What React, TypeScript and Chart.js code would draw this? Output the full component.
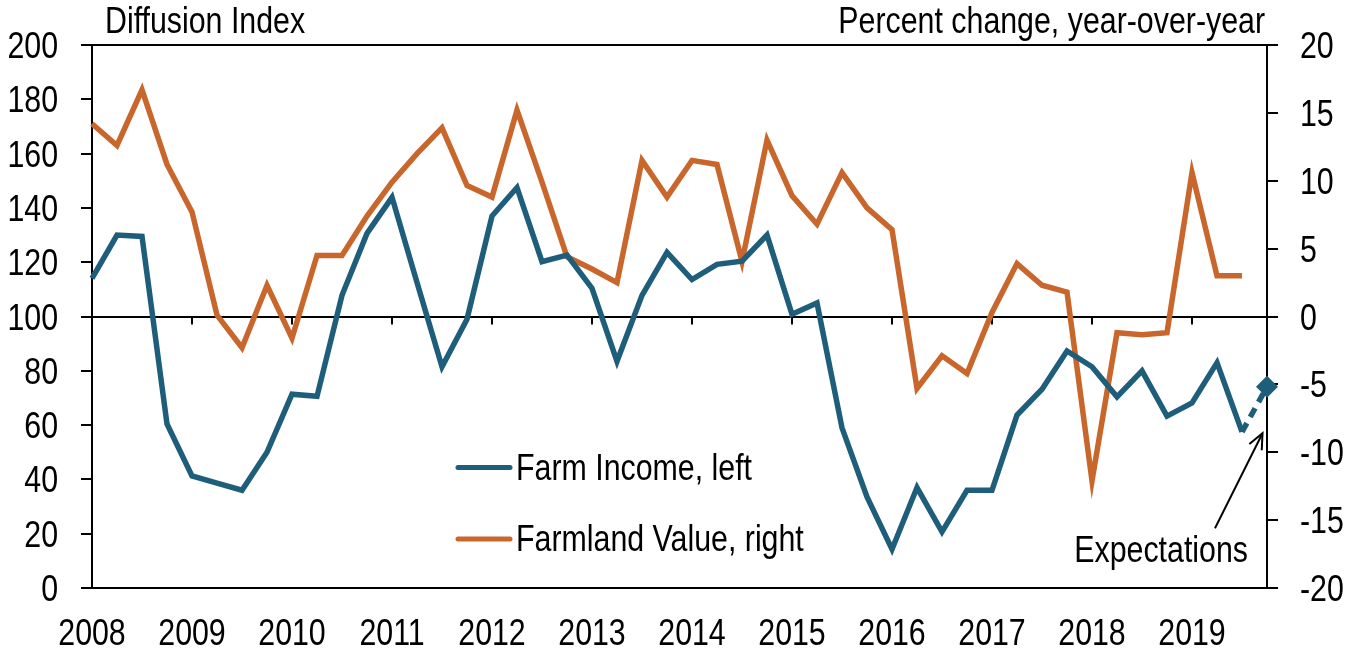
import React, { useEffect, useRef } from "react";
import { Chart, registerables } from "chart.js";

Chart.register(...registerables);

const years = [2008, 2009, 2010, 2011, 2012, 2013, 2014, 2015, 2016, 2017, 2018, 2019];
const quarters = ["Q1", "Q2", "Q3", "Q4"];
const labels = years.flatMap((y) => quarters.map((q) => `${y} ${q}`));

// Diffusion index (left axis)
const farmIncome = [
  114, 130, 129.5, 60.4, 41.3, 38.6, 36, 50,
  71.4, 70.6, 107.8, 130.6, 143.9, 112.5, 81.5, 99,
  137, 147.5, 120.2, 122.6, 110.4, 83.5, 107.8, 123.6,
  113.6, 119.2, 120.4, 130, 100.8, 105, 59, 33.5,
  14.3, 37, 20.7, 36, 36, 63.7, 73.2, 87.3,
  81.5, 70.4, 80, 63.3, 68.2, 83, 57.5, null,
];

// Expectation for the next quarter (left axis)
const farmIncomeExpectation = 74.1;

// Percent change, year-over-year (right axis)
const farmlandValue = [
  14.2, 12.6, 16.7, 11.2, 7.7, 0.1, -2.3, 2.3,
  -1.6, 4.5, 4.5, 7.4, 9.9, 12.0, 13.9, 9.65,
  8.8, 15.2, 9.9, 4.4, 3.5, 2.5, 11.5, 8.8,
  11.5, 11.2, 4.05, 13.0, 8.9, 6.8, 10.6, 8.0,
  6.4, -5.3, -2.9, -4.2, 0.3, 3.9, 2.3, 1.8,
  -12.1, -1.2, -1.35, -1.2, 10.6, 3.0, 3.0, null,
];

const BLUE = "#1f5e7a";
const ORANGE = "#c8662c";
const FONT = "'Liberation Sans', Arial, sans-serif";
const FONT_SIZE = 37;
const NARROW = 0.82;

const lastActual = farmIncome.length - 2;
const expectationData = labels.map((_, i) =>
  i === lastActual ? farmIncome[lastActual] : i === labels.length - 1 ? farmIncomeExpectation : null
);

function narrowText(ctx: CanvasRenderingContext2D, text: string, x: number, y: number, align: CanvasTextAlign) {
  ctx.save();
  ctx.translate(x, y);
  ctx.scale(NARROW, 1);
  ctx.textAlign = align;
  ctx.textBaseline = "alphabetic";
  ctx.fillText(text, 0, 0);
  ctx.restore();
}

const decorations = {
  id: "decorations",
  beforeDatasetsDraw(chart: any) {
    const { ctx, scales } = chart;
    const x = scales.x;
    const yL = scales.yLeft;
    const y100 = yL.getPixelForValue(100);
    ctx.save();
    ctx.strokeStyle = "#000";
    ctx.lineWidth = 2;
    for (let i = 4; i < labels.length; i += 4) {
      const px = Math.round(x.getPixelForValue(i));
      ctx.beginPath();
      ctx.moveTo(px, y100);
      ctx.lineTo(px, y100 + 8);
      ctx.stroke();
    }
    ctx.restore();
  },
  afterDraw(chart: any) {
    const { ctx, scales } = chart;
    const x = scales.x;
    const yL = scales.yLeft;
    const yR = scales.yRight;
    ctx.save();
    ctx.fillStyle = "#000";
    ctx.font = `${FONT_SIZE}px ${FONT}`;

    // axis tick labels (positions from the library's scales)
    for (const t of yL.ticks) {
      narrowText(ctx, String(t.label), 58, yL.getPixelForValue(t.value) + 13, "right");
    }
    for (const t of yR.ticks) {
      narrowText(ctx, String(t.label), 1300, yR.getPixelForValue(t.value) + 13, "left");
    }
    years.forEach((yr, k) => {
      narrowText(ctx, String(yr), x.getPixelForValue(k * 4), 645, "center");
    });

    // axis titles
    narrowText(ctx, "Diffusion Index", 105, 33, "left");
    narrowText(ctx, "Percent change, year-over-year", 1265, 33, "right");

    // legend
    const items = [
      { label: chart.data.datasets[0].label, color: chart.data.datasets[0].borderColor, y: 467.5 },
      { label: chart.data.datasets[1].label, color: chart.data.datasets[1].borderColor, y: 539 },
    ];
    ctx.lineCap = "round";
    ctx.lineWidth = 5;
    for (const it of items) {
      ctx.strokeStyle = it.color;
      ctx.beginPath();
      ctx.moveTo(458, it.y);
      ctx.lineTo(510, it.y);
      ctx.stroke();
      ctx.fillStyle = "#000";
      narrowText(ctx, it.label, 516, it.y + 12, "left");
    }

    // Expectations annotation
    const xEnd = x.getPixelForValue(labels.length - 1);
    const tipX = xEnd - 4.5;
    const tipY = yL.getPixelForValue(57);
    const tailX = xEnd - 52;
    const tailY = yL.getPixelForValue(22);
    ctx.strokeStyle = "#000";
    ctx.lineWidth = 2;
    ctx.lineCap = "butt";
    ctx.beginPath();
    ctx.moveTo(tailX, tailY);
    ctx.lineTo(tipX, tipY);
    ctx.stroke();
    const ang = Math.atan2(tipY - tailY, tipX - tailX);
    const hl = 17;
    ctx.beginPath();
    ctx.moveTo(tipX - hl * Math.cos(ang - 0.42), tipY - hl * Math.sin(ang - 0.42));
    ctx.lineTo(tipX, tipY);
    ctx.lineTo(tipX - hl * Math.cos(ang + 0.42), tipY - hl * Math.sin(ang + 0.42));
    ctx.stroke();
    ctx.fillStyle = "#000";
    narrowText(ctx, "Expectations", xEnd - 19, yL.getPixelForValue(9.6), "right");
    ctx.restore();
  },
};

export default function App() {
  const ref = useRef<HTMLCanvasElement | null>(null);
  useEffect(() => {
    if (!ref.current) return;
    const chart = new Chart(ref.current, {
      type: "line",
      data: {
        labels,
        datasets: [
          {
            label: "Farm Income, left",
            data: farmIncome,
            borderColor: BLUE,
            backgroundColor: BLUE,
            borderWidth: 5.5,
            pointRadius: 0,
            yAxisID: "yLeft",
            tension: 0,
            clip: false,
          },
          {
            label: "Farmland Value, right",
            data: farmlandValue,
            borderColor: ORANGE,
            backgroundColor: ORANGE,
            borderWidth: 5.5,
            pointRadius: 0,
            yAxisID: "yRight",
            tension: 0,
            clip: false,
          },
          {
            label: "Expectations",
            data: expectationData,
            borderColor: BLUE,
            backgroundColor: BLUE,
            borderWidth: 5.5,
            borderDash: [10, 7],
            pointStyle: "rectRot",
            pointRadius: (c: any) => (c.dataIndex === labels.length - 1 ? 11 : 0),
            pointBorderWidth: 0,
            pointBackgroundColor: BLUE,
            yAxisID: "yLeft",
            tension: 0,
            clip: false,
          },
        ],
      },
      options: {
        animation: false,
        responsive: false,
        devicePixelRatio: 1,
        layout: { padding: { top: 45, left: 0, right: 0, bottom: 0 } },
        plugins: {
          legend: { display: false },
          tooltip: { enabled: false },
        },
        scales: {
          x: {
            type: "category",
            offset: false,
            grid: { display: false, drawTicks: false },
            border: { display: false },
            ticks: { display: false, autoSkip: false, maxRotation: 0 },
            afterFit: (s: any) => {
              s.height = 62;
            },
          },
          yLeft: {
            position: "left",
            min: 0,
            max: 200,
            ticks: { display: false, stepSize: 20 },
            grid: {
              color: (c: any) => ([0, 100, 200].includes(c.tick?.value) ? "#000" : "rgba(0,0,0,0)"),
              tickColor: "#000",
              lineWidth: 2,
              tickLength: 11,
            },
            border: { display: true, color: "#000", width: 2 },
            afterFit: (s: any) => {
              s.width = 92;
            },
          },
          yRight: {
            position: "right",
            min: -20,
            max: 20,
            ticks: { display: false, stepSize: 5 },
            grid: {
              drawOnChartArea: false,
              tickColor: "#000",
              lineWidth: 2,
              tickLength: 11,
            },
            border: { display: true, color: "#000", width: 2 },
            afterFit: (s: any) => {
              s.width = 87;
            },
          },
        },
      },
      plugins: [decorations],
    });
    return () => chart.destroy();
  }, []);
  return (
    <div style={{ position: "absolute", left: 0, top: 0, width: 1354, height: 650, background: "#fff" }}>
      <canvas ref={ref} width={1354} height={650} />
    </div>
  );
}
